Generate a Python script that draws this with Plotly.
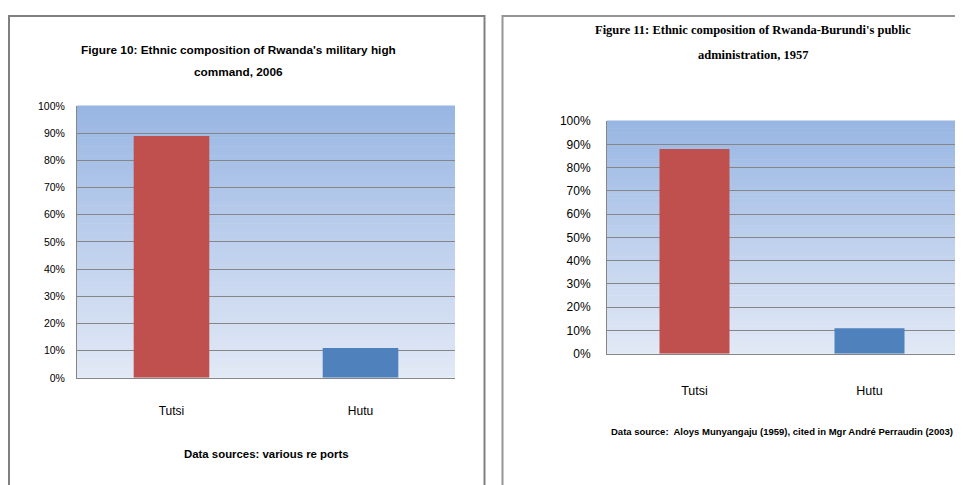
import plotly.graph_objects as go

# ---- data ----
categories = ["Tutsi", "Hutu"]
military_2006 = [0.89, 0.11]
admin_1957 = [0.88, 0.11]
bar_colors = ["#C0504D", "#4F81BD"]
tick_vals = [i / 10 for i in range(11)]
tick_text = [f"{i * 10}%" for i in range(11)]

# page placement (measured): screen_x = 8 + fig_x ; screen_y = 15.3 + 0.968 * fig_y
W, H = 955, 485
def px(x):
    return min(max((x - 8) / W, 0), 1)
def py(y):
    return min(max(1 - ((y - 15.3) / 0.968) / H, 0), 1)

SANS = "Liberation Sans, Arial, sans-serif"
SERIF = "Liberation Serif, Times New Roman, serif"
GRID = "#868686"

fig = go.Figure()
fig.add_trace(go.Bar(x=categories, y=military_2006, marker=dict(color=bar_colors, line=dict(width=0)),
                     width=0.4, xaxis="x", yaxis="y", showlegend=False, hoverinfo="x+y"))
fig.add_trace(go.Bar(x=categories, y=admin_1957, marker=dict(color=bar_colors, line=dict(width=0)),
                     width=0.4, xaxis="x2", yaxis="y2", showlegend=False, hoverinfo="x+y"))

shapes = []
# gradient plot backgrounds
top = (152, 182, 227)
bot = (226, 233, 246)
N = 60
for xr, yr in (("x domain", "y domain"), ("x2 domain", "y2 domain")):
    for i in range(N):
        t = (i + 0.5) / N
        c = tuple(round(bot[k] + (top[k] - bot[k]) * t) for k in range(3))
        shapes.append(dict(type="rect", xref=xr, yref=yr, x0=0, x1=1, y0=i / N, y1=(i + 1) / N + 0.002,
                           fillcolor=f"rgb{c}", line=dict(width=0), layer="below"))
# panel boxes
shapes.append(dict(type="rect", xref="paper", yref="paper", x0=px(9), x1=px(484.5), y0=-0.2, y1=0.998,
                   line=dict(color="#808080", width=2), fillcolor="rgba(0,0,0,0)", layer="below"))
shapes.append(dict(type="rect", xref="paper", yref="paper", x0=px(502.5), x1=1.2, y0=-0.2, y1=0.998,
                   line=dict(color="#959595", width=2), fillcolor="rgba(0,0,0,0)", layer="below"))

def note(text, x, y, family, size):
    return dict(text=text, x=px(x), y=py(y), xref="paper", yref="paper", showarrow=False,
                xanchor="center", yanchor="middle", font=dict(family=family, size=size, color="black"))

annotations = [
    note("<b>Figure 10: Ethnic composition of Rwanda's military high</b>", 238, 50, SANS, 11.8),
    note("<b>command, 2006</b>", 238, 72, SANS, 11.8),
    note("<b>Data sources: various re ports</b>", 266, 453, SANS, 11.4),
    note("<b>Figure 11: Ethnic composition of Rwanda-Burundi's public</b>", 753, 30, SERIF, 12.5),
    note("<b>administration, 1957</b>", 753, 55, SERIF, 12.5),
    note("<b>Data source:  Aloys Munyangaju (1959), cited in Mgr André Perraudin (2003)</b>", 781.5, 430, SANS, 9.5),
]

def xaxis(domain, standoff, size):
    return dict(domain=domain, showgrid=False, showline=True, linecolor=GRID, linewidth=1,
                ticks="", tickfont=dict(family=SANS, size=size, color="black"),
                ticklabelstandoff=standoff, fixedrange=True)

def yaxis(domain, anchor, standoff, size):
    return dict(domain=domain, anchor=anchor, range=[0, 1], tickvals=tick_vals, ticktext=tick_text,
                showgrid=True, gridcolor=GRID, gridwidth=1, showline=True, linecolor=GRID, linewidth=1,
                zeroline=False, ticks="", tickfont=dict(family=SANS, size=size, color="black"),
                ticklabelstandoff=standoff, fixedrange=True)

fig.update_layout(
    width=W, height=H, margin=dict(l=0, r=0, t=0, b=0),
    paper_bgcolor="white", plot_bgcolor="rgba(0,0,0,0)",
    xaxis=dict(**xaxis([px(77), px(455)], 22, 12), anchor="y"),
    yaxis=yaxis([py(377), py(106)], "x", 9, 10.5),
    xaxis2=dict(**xaxis([px(607), px(957)], 25, 12.5), anchor="y2"),
    yaxis2=yaxis([py(353), py(121)], "x2", 13, 12),
    shapes=shapes, annotations=annotations, bargap=0.6,
)
fig.write_html("out.html")
